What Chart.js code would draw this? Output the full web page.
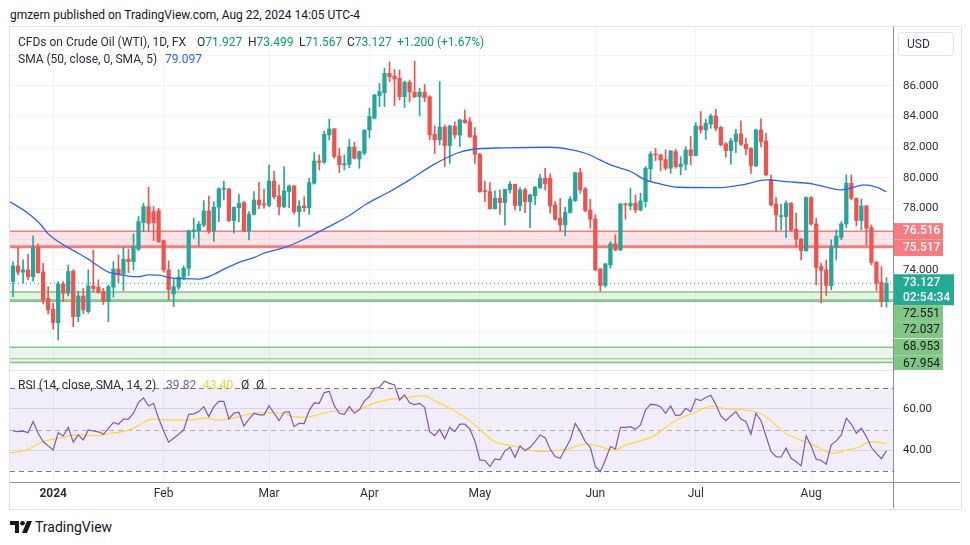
<!DOCTYPE html>
<html>
<head>
<meta charset="utf-8">
<script src="https://cdn.jsdelivr.net/npm/chart.js@4.4.1/dist/chart.umd.min.js"></script>
<style>
  body { margin: 0; width: 970px; height: 545px; background: #fff; position: relative; overflow: hidden;
         font-family: Roboto, "Liberation Sans", sans-serif; color: #131722; }
  .t { position: absolute; white-space: nowrap; font-size: 12px; line-height: 16px; }
  .g { color: #2a2e39; }
  .up { color: #089981; }
  canvas { position: absolute; }
  .line { position: absolute; }
</style>
</head>
<body>
<div class="t" style="left:10px;top:7px;font-size:12px">gmzern published on TradingView.com, Aug 22, 2024 14:05 UTC-4</div>
<div style="position:absolute;left:9px;top:26px;width:951px;height:482px;border:1px solid #e0e3eb"></div>

<canvas id="main" width="950" height="342" style="left:10px;top:28px"></canvas>
<canvas id="rsi" width="950" height="138" style="left:10px;top:370px"></canvas>

<div class="line" style="left:10px;top:370px;width:883px;height:1px;background:#e0e3eb"></div>
<div class="line" style="left:10px;top:482px;width:950px;height:1px;background:#8c8f99"></div>
<div class="line" style="left:893px;top:27px;width:1px;height:481px;background:#8c8f99"></div>

<div class="t g" style="left:18px;top:34px">CFDs on Crude Oil (WTI), 1D, FX</div>
<div class="t g" style="left:197px;top:34px">O<span class="up">71.927</span></div>
<div class="t g" style="left:248px;top:34px">H<span class="up">73.499</span></div>
<div class="t g" style="left:299px;top:34px">L<span class="up">71.567</span></div>
<div class="t g" style="left:347px;top:34px">C<span class="up">73.127</span></div>
<div class="t up" style="left:397px;top:34px">+1.200 (+1.67%)</div>
<div class="t g" style="left:18px;top:51px">SMA (50, close, 0, SMA, 5)</div>
<div class="t" style="left:165px;top:51px;color:#2962ff">79.097</div>

<div class="t g" style="left:18px;top:377px">RSI (14, close, SMA, 14, 2)</div>
<div class="t" style="left:166px;top:377px;color:#7e57c2">39.82</div>
<div class="t" style="left:203px;top:377px;color:#f5d02f">43.40</div>
<div class="t g" style="left:241px;top:377px">Ø</div>
<div class="t g" style="left:256px;top:377px">Ø</div>

<div style="position:absolute;left:898px;top:32px;width:56px;height:24px;border:1px solid #e0e3eb;border-radius:4px;box-sizing:border-box"></div>
<div class="t g" style="left:907px;top:36px;font-size:12px">USD</div>

<svg style="position:absolute;left:10px;top:521px" width="24" height="13" viewBox="0 0 24 13">
  <path d="M0 0H9V12H5V4H0Z" fill="#131722"/>
  <circle cx="12.5" cy="2.3" r="2.3" fill="#131722"/>
  <path d="M17 0H22L17 12H12Z" fill="#131722"/>
</svg>
<div class="t" style="left:35px;top:519px;font-size:14px">TradingView</div>

<script>
// daily candles, Dec 19 2023 .. Aug 22 2024 (index = trading day)
const open = [
  73.24, 74.26, 73.85, 74.00, 73.56, 75.48, 73.87, 72.13, 71.43, 70.56,
  73.09, 72.48, 73.93, 70.95, 72.30, 71.28, 72.95, 72.87, 72.59, 71.93,
  72.87, 74.06, 73.74, 74.70, 74.54, 75.35, 77.08, 78.13, 77.80, 77.87,
  75.91, 74.00, 72.43, 72.87, 73.52, 74.11, 76.50, 76.54, 76.93, 77.85,
  76.54, 78.09, 79.26, 79.28, 77.22, 78.06, 78.39, 76.54, 77.63, 78.56,
  78.32, 78.20, 79.80, 78.82, 78.13, 79.11, 79.48, 77.80, 78.17, 78.06,
  79.65, 81.11, 81.02, 82.80, 83.20, 81.43, 80.85, 80.89, 82.02, 81.24,
  81.61, 83.13, 83.89, 85.37, 85.56, 86.82, 86.65, 86.50, 85.30, 86.24,
  85.60, 85.30, 85.60, 85.30, 82.85, 82.48, 83.32, 82.10, 83.39, 82.80,
  83.78, 83.67, 82.76, 81.54, 79.15, 79.11, 77.98, 78.67, 78.39, 79.22,
  79.59, 78.20, 79.22, 78.45, 78.84, 79.37, 79.98, 79.98, 78.24, 77.37,
  76.93, 77.74, 78.52, 80.35, 79.28, 77.91, 77.33, 74.06, 72.98, 74.33,
  75.70, 75.30, 78.30, 78.17, 78.35, 77.91, 78.46, 80.59, 81.56, 81.50,
  81.20, 80.63, 81.72, 80.74, 80.89, 81.83, 81.46, 83.39, 83.13, 83.52,
  84.04, 83.30, 82.22, 81.78, 82.37, 82.87, 82.20, 81.93, 80.80, 83.13,
  82.41, 79.91, 78.30, 77.48, 77.48, 78.35, 76.65, 76.00, 75.26, 78.72,
  77.00, 74.22, 74.00, 72.98, 75.48, 76.11, 77.00, 79.65, 78.67, 77.22,
  78.17, 76.76, 74.50, 73.20, 71.927
];
const high = [
  74.54, 75.48, 74.65, 75.04, 76.22, 75.69, 74.43, 72.91, 71.82, 73.24,
  73.24, 74.32, 74.00, 72.62, 72.80, 74.00, 75.30, 73.35, 72.80, 73.02,
  74.54, 74.98, 75.48, 75.35, 76.35, 77.48, 78.35, 79.39, 78.13, 78.02,
  75.96, 74.60, 73.45, 74.00, 74.26, 76.60, 77.37, 77.15, 78.52, 78.82,
  78.45, 79.37, 79.80, 79.32, 78.09, 78.93, 78.45, 77.80, 79.11, 79.72,
  79.28, 80.85, 80.45, 79.54, 80.74, 79.54, 79.50, 78.52, 78.78, 79.98,
  81.65, 81.50, 83.06, 83.85, 83.24, 81.93, 81.50, 82.52, 82.32, 81.76,
  83.13, 84.54, 85.45, 86.17, 87.15, 87.58, 87.08, 87.04, 86.32, 86.39,
  87.63, 85.85, 86.10, 85.37, 83.41, 86.28, 83.45, 83.45, 83.67, 83.85,
  84.43, 83.93, 83.28, 81.61, 79.80, 79.70, 79.15, 79.22, 79.26, 79.76,
  79.59, 79.37, 79.32, 78.93, 79.43, 80.24, 80.63, 80.26, 78.46, 78.67,
  78.09, 78.78, 80.35, 80.63, 79.39, 78.61, 77.59, 74.11, 74.43, 75.85,
  76.28, 78.35, 78.35, 79.33, 78.89, 79.00, 80.74, 81.72, 81.93, 81.54,
  81.83, 81.80, 81.87, 81.39, 82.04, 82.70, 83.61, 84.33, 83.83, 84.17,
  84.48, 83.35, 82.30, 82.59, 83.17, 83.72, 82.59, 81.98, 83.18, 83.85,
  82.91, 80.20, 78.74, 78.30, 78.50, 78.39, 77.70, 76.06, 78.76, 78.78,
  77.37, 74.44, 74.65, 75.96, 76.61, 77.15, 80.20, 80.20, 78.70, 78.63,
  78.20, 76.93, 74.55, 74.22, 73.499
];
const low = [
  72.26, 73.69, 73.13, 73.35, 73.26, 73.78, 71.78, 71.13, 70.13, 69.43,
  71.93, 72.30, 70.30, 70.62, 71.13, 71.17, 72.56, 72.48, 71.74, 70.63,
  72.22, 73.17, 72.65, 73.82, 74.00, 75.26, 76.50, 76.52, 75.91, 75.78,
  73.85, 72.04, 71.60, 72.70, 73.35, 73.63, 76.06, 75.56, 76.82, 76.39,
  75.85, 77.15, 78.56, 77.15, 76.39, 77.15, 76.50, 75.95, 77.58, 77.98,
  78.02, 78.13, 78.63, 77.58, 78.06, 78.06, 77.63, 76.82, 77.80, 77.63,
  79.59, 80.52, 80.95, 82.48, 81.28, 80.35, 80.52, 80.67, 81.24, 80.63,
  81.50, 82.63, 83.85, 84.65, 84.65, 86.28, 84.72, 85.09, 84.59, 84.98,
  85.24, 84.06, 84.98, 82.48, 81.59, 82.15, 80.74, 80.95, 82.59, 82.04,
  83.56, 82.63, 80.95, 79.06, 78.45, 77.98, 77.98, 77.63, 76.93, 79.00,
  77.91, 77.85, 77.74, 76.76, 78.24, 79.32, 79.22, 77.70, 77.26, 76.54,
  76.22, 77.70, 78.46, 79.00, 77.80, 76.72, 73.95, 72.59, 72.87, 74.11,
  75.25, 75.25, 77.30, 77.91, 77.74, 77.85, 78.09, 79.80, 81.13, 80.46,
  80.52, 80.30, 80.63, 80.20, 80.52, 80.85, 81.43, 82.91, 82.52, 83.24,
  83.09, 82.09, 81.35, 80.89, 81.65, 82.11, 81.50, 80.30, 80.74, 82.04,
  80.13, 78.17, 76.50, 76.61, 76.11, 76.50, 75.48, 74.65, 75.20, 76.90,
  73.02, 71.85, 72.33, 72.70, 74.65, 75.96, 76.76, 78.57, 76.87, 76.61,
  75.63, 74.33, 72.65, 71.60, 71.567
];
const close = [
  74.26, 73.85, 74.00, 73.56, 75.48, 73.82, 72.04, 71.39, 70.56, 73.09,
  72.48, 73.89, 70.95, 72.30, 71.39, 72.95, 72.78, 72.52, 71.93, 72.91,
  74.06, 73.67, 74.70, 74.54, 75.48, 77.15, 78.13, 77.04, 77.08, 75.85,
  74.00, 72.70, 72.91, 73.52, 74.11, 76.56, 76.60, 76.98, 77.85, 76.54,
  78.09, 79.28, 79.32, 77.22, 78.09, 78.35, 76.54, 77.63, 78.56, 78.24,
  78.24, 79.80, 78.78, 78.13, 79.15, 79.48, 77.80, 78.17, 78.06, 79.70,
  81.11, 81.02, 82.85, 83.20, 81.39, 80.85, 80.93, 82.02, 81.28, 81.72,
  83.13, 84.00, 85.41, 85.63, 86.82, 86.60, 86.45, 85.30, 86.24, 85.60,
  85.30, 85.60, 85.24, 82.80, 82.48, 83.32, 82.10, 83.39, 82.80, 83.78,
  83.61, 82.69, 81.54, 79.11, 79.11, 77.98, 78.67, 78.39, 79.26, 79.59,
  78.20, 79.22, 78.45, 78.89, 79.39, 79.98, 79.61, 78.17, 77.30, 76.93,
  77.76, 78.61, 80.35, 79.22, 77.87, 77.30, 74.00, 72.98, 74.39, 75.70,
  75.30, 78.30, 78.24, 78.35, 77.91, 78.50, 80.63, 81.56, 81.50, 81.17,
  80.63, 81.76, 80.74, 80.91, 81.83, 81.46, 83.39, 83.13, 83.56, 84.04,
  83.24, 82.15, 81.78, 82.41, 82.87, 82.20, 81.89, 80.80, 83.13, 82.37,
  80.20, 78.24, 77.59, 77.52, 78.35, 76.61, 76.00, 75.26, 78.72, 77.00,
  74.15, 73.96, 72.98, 75.52, 76.20, 77.00, 79.65, 78.67, 77.22, 78.17,
  76.72, 74.48, 73.13, 71.93, 73.127
];

// SMA 50 as [bar index, value]
const sma50 = [
  [-0.6, 78.45], [3, 77.69], [5.6, 76.93], [7, 76.35], [9, 75.85], [11, 75.45], [13, 75.09],
  [15, 74.7], [17, 74.25], [19, 73.85], [21, 73.72], [23, 73.6], [25, 73.56], [27, 73.67],
  [29, 73.66], [31, 73.5], [34, 73.43], [37, 73.4], [40, 73.7], [42, 74.05], [44, 74.35],
  [46, 74.6], [48, 74.8], [50, 75.09], [54, 75.45], [58, 76.0], [61, 76.5], [64, 77.0],
  [67, 77.55], [70.4, 78.3], [75, 79.1], [79, 79.87], [83.7, 80.85], [88.4, 81.61],
  [91.7, 81.87], [98, 81.96], [107, 82.0], [111, 81.85], [114, 81.61], [119, 80.85],
  [123, 80.42], [126, 79.87], [129, 79.6], [132.5, 79.39], [141, 79.37], [146, 79.6],
  [150, 79.87], [154, 79.76], [159.4, 79.6], [162, 79.4], [164.7, 79.22], [167, 79.35],
  [169.4, 79.54], [172, 79.4], [174, 79.097]
];

const rsi = [
  49.3, 49.0, 49.2, 48.5, 53.9, 48.2, 44.2, 42.1, 40.1, 48.5,
  46.9, 51.1, 43.9, 47.4, 45.0, 49.8, 49.3, 48.9, 47.7, 50.6,
  53.5, 52.6, 55.1, 55.0, 57.9, 63.2, 65.3, 61.4, 62.7, 55.5,
  49.3, 43.9, 45.8, 47.7, 49.8, 57.4, 57.6, 58.7, 61.1, 56.3,
  61.1, 63.7, 63.7, 55.1, 58.0, 58.4, 51.7, 55.0, 57.9, 57.1,
  57.1, 61.6, 57.9, 54.3, 58.4, 58.7, 51.4, 53.0, 52.9, 59.2,
  62.9, 62.7, 67.9, 68.5, 61.6, 57.9, 57.4, 61.1, 57.9, 59.5,
  63.9, 66.0, 70.0, 70.5, 73.4, 72.4, 71.6, 64.3, 66.8, 63.0,
  62.1, 62.7, 60.8, 49.0, 47.1, 50.1, 45.5, 51.1, 49.0, 52.6,
  52.6, 50.3, 44.5, 35.3, 35.0, 32.1, 35.8, 35.3, 39.7, 41.4,
  36.6, 42.1, 39.7, 41.4, 44.2, 47.4, 46.1, 40.5, 36.9, 36.1,
  40.6, 45.0, 53.0, 49.0, 44.2, 41.4, 32.1, 29.6, 35.3, 41.8,
  40.6, 51.1, 51.1, 51.4, 50.1, 52.2, 59.5, 62.2, 62.1, 61.1,
  57.9, 61.4, 56.8, 57.1, 60.3, 58.7, 64.8, 64.0, 65.5, 66.6,
  62.2, 56.6, 54.3, 56.6, 58.7, 55.1, 53.9, 47.7, 57.9, 54.3,
  46.9, 39.3, 36.9, 36.6, 41.0, 36.1, 34.5, 32.4, 46.9, 42.1,
  35.6, 35.0, 33.2, 42.6, 44.5, 47.4, 55.5, 52.6, 48.2, 50.6,
  46.6, 41.3, 38.5, 35.9, 39.82
];

// RSI smoothing line as [bar index, value]
const rsiMa = [
  [-0.6, 38.7], [0, 38.8], [2.7, 40.1], [6.0, 44.2], [9.3, 45.8], [12.7, 47.4], [17.3, 47.1],
  [19.3, 48.2], [21.9, 49.0], [23.9, 50.6], [27.9, 55.1], [31.9, 54.6], [34.6, 54.6],
  [38.6, 55.5], [40.6, 54.6], [43.9, 55.5], [47.2, 57.6], [50.5, 58.2], [53.8, 57.9],
  [55.8, 56.3], [58.5, 56.0], [61.1, 57.4], [63.8, 59.0], [67.8, 59.2], [69.1, 59.8],
  [71.8, 62.7], [74.4, 64.3], [77.1, 65.1], [79.7, 66.0], [82.1, 66.3], [83.7, 64.3],
  [87.0, 60.3], [90.3, 55.5], [93.0, 50.1], [95.7, 44.5], [98.3, 42.6], [101.0, 41.3],
  [105.0, 39.3], [109.0, 40.1], [110.9, 40.9], [114.3, 43.0], [116.9, 41.7], [119.6, 40.1],
  [122.2, 42.6], [124.9, 44.5], [127.5, 46.6], [130.2, 51.4], [132.9, 55.5], [135.5, 57.9],
  [138.2, 60.8], [139.5, 61.4], [142.1, 60.0], [145.5, 59.5], [148.8, 57.9], [150.8, 54.7],
  [153.4, 49.0], [156.8, 45.0], [159.4, 42.6], [162.1, 39.3], [163.4, 38.5], [166.1, 40.1],
  [168.7, 41.7], [170.7, 44.2], [172.7, 43.7], [174, 43.40]
];

// time axis: first bar of each month
const monthIdx = [8, 30, 51, 71, 93, 116, 136, 159];
const monthLabels = ['2024', 'Feb', 'Mar', 'Apr', 'May', 'Jun', 'Jul', 'Aug'];

// price axis
const priceTicks = [68, 70, 72, 74, 76, 78, 80, 82, 84, 86, 88];
const priceLabels = [74, 78, 80, 82, 84, 86];
const rsiTicks = [40, 60];

// drawn levels
const resistance = [76.516, 75.517];
const support = [72.551, 72.037];
const support2 = [68.953, 67.954];
const lastClose = 73.127;
const countdown = '02:54:34';

const up = '#26a69a', down = '#ef5350';
Chart.defaults.font.family = 'Roboto, "Liberation Sans", sans-serif';

const bars = open.map((_, i) => i);
const barColors = bars.map(i => close[i] >= open[i] ? up : down);

const xMin = -0.6, xMax = 175.3;

// no auto padding around the plot, TradingView style
const noPad = s => { s.paddingTop = 0; s.paddingBottom = 0; s.paddingLeft = 0; s.paddingRight = 0; };

const levels = {
  id: 'levels',
  beforeDatasetsDraw(chart) {
    const { ctx, chartArea: a, scales: { y } } = chart;
    const w = a.right - a.left;
    ctx.save();
    const zone = (top, bot, fill) => {
      const y1 = y.getPixelForValue(top), y2 = y.getPixelForValue(bot);
      ctx.fillStyle = fill;
      ctx.fillRect(a.left, y1, w, y2 - y1);
    };
    zone(resistance[0], resistance[1], 'rgba(242,54,69,0.13)');
    zone(support[0], 71.95, 'rgba(76,175,80,0.15)');
    zone(support2[0], support2[1], 'rgba(76,175,80,0.12)');
    const hline = (v, color, lw) => {
      const py = y.getPixelForValue(v);
      ctx.strokeStyle = color;
      ctx.lineWidth = lw;
      ctx.beginPath();
      ctx.moveTo(a.left, py);
      ctx.lineTo(a.right, py);
      ctx.stroke();
    };
    hline(resistance[0], '#f77c80', 1.5);
    hline(resistance[1], '#f77c80', 3);
    hline(support[0], '#81c784', 1.5);
    hline(support[1], '#81c784', 1.5);
    hline(71.95, '#81c784', 1.5);
    hline(support2[0], '#81c784', 1.5);
    hline(68.2, '#81c784', 1);
    hline(support2[1], '#81c784', 1.5);
    ctx.setLineDash([1, 3]);
    hline(lastClose, up, 1);
    ctx.restore();
  },
  afterDraw(chart) {
    const { ctx, chartArea: a, scales: { y } } = chart;
    const tags = [
      { v: resistance[0], lines: [resistance[0].toFixed(3)], bg: '#f77c80', fg: '#fff', w: 49 },
      { v: resistance[1], lines: [resistance[1].toFixed(3)], bg: '#f77c80', fg: '#fff', w: 49 },
      { v: lastClose, lines: [lastClose.toFixed(3), countdown], bg: '#22ab94', fg: '#fff', w: 60 },
      { v: support[0], lines: [support[0].toFixed(3)], bg: '#81c784', fg: '#131722', w: 49 },
      { v: support[1], lines: [support[1].toFixed(3)], bg: '#81c784', fg: '#131722', w: 49 },
      { v: support2[0], lines: [support2[0].toFixed(3)], bg: '#81c784', fg: '#131722', w: 49 },
      { v: support2[1], lines: [support2[1].toFixed(3)], bg: '#81c784', fg: '#131722', w: 49 }
    ];
    ctx.save();
    ctx.textBaseline = 'middle';
    let prevBottom = -1e9;
    tags.forEach(t => {
      let c = y.getPixelForValue(t.v);
      const above = t.lines.length > 1 ? 9 : 8.25;
      const below = t.lines.length > 1 ? 22 : 8.25;
      if (c - above < prevBottom) c = prevBottom + above;
      prevBottom = c + below;
      ctx.fillStyle = t.bg;
      ctx.fillRect(a.right + 1, c - above, t.w, above + below);
      ctx.fillStyle = t.fg;
      ctx.font = (t.fg === '#fff' ? '500 ' : '') + '12px Roboto, "Liberation Sans", sans-serif';
      t.lines.forEach((s, k) => ctx.fillText(s, a.right + 10, c + k * 15));
    });
    ctx.restore();
  }
};

new Chart(document.getElementById('main'), {
  type: 'bar',
  data: {
    datasets: [
      {
        type: 'line',
        data: sma50.map(p => ({ x: p[0], y: p[1] })),
        borderColor: '#2962ff',
        borderWidth: 1.3,
        pointRadius: 0,
        cubicInterpolationMode: 'monotone',
        order: 0
      },
      {
        data: bars.map(i => ({ x: i, y: [open[i], close[i]] })),
        backgroundColor: barColors,
        barThickness: 3.6,
        minBarLength: 1,
        grouped: false,
        order: 1
      },
      {
        data: bars.map(i => ({ x: i, y: [low[i], high[i]] })),
        backgroundColor: barColors,
        barThickness: 1,
        grouped: false,
        order: 2
      }
    ]
  },
  options: {
    responsive: false,
    animation: false,
    events: [],
    layout: { padding: 0, autoPadding: false },
    plugins: { legend: { display: false }, tooltip: { enabled: false } },
    scales: {
      x: {
        type: 'linear', min: xMin, max: xMax, offset: false,
        afterBuildTicks: s => { s.ticks = monthIdx.map(v => ({ value: v })); },
        ticks: { display: false },
        grid: { color: '#f0f3fa', drawTicks: false, offset: false },
        border: { display: false },
        afterFit: s => { s.height = 0; noPad(s); }
      },
      y: {
        position: 'right', min: 67.47, max: 89.78,
        afterBuildTicks: s => { s.ticks = priceTicks.map(v => ({ value: v })); },
        ticks: {
          padding: 10, color: '#2a2e39', font: { size: 11.5 },
          callback: v => priceLabels.includes(v) ? v.toFixed(3) : ''
        },
        grid: { color: '#f0f3fa', drawTicks: false },
        border: { display: false },
        afterFit: s => { s.width = 67; noPad(s); }
      }
    }
  },
  plugins: [levels]
});

const rsiBand = {
  id: 'rsiBand',
  beforeDatasetsDraw(chart) {
    const { ctx, chartArea: a, scales: { y } } = chart;
    const y70 = y.getPixelForValue(70), y30 = y.getPixelForValue(30), y50 = y.getPixelForValue(50);
    ctx.save();
    ctx.fillStyle = 'rgba(126,87,194,0.1)';
    ctx.fillRect(a.left, y70, a.right - a.left, y30 - y70);
    ctx.lineWidth = 1;
    ctx.setLineDash([5, 4]);
    [[y70, '#787b86'], [y30, '#787b86'], [y50, 'rgba(120,123,134,0.55)']].forEach(([py, c]) => {
      ctx.strokeStyle = c;
      ctx.beginPath();
      ctx.moveTo(a.left, Math.round(py) + 0.5);
      ctx.lineTo(a.right, Math.round(py) + 0.5);
      ctx.stroke();
    });
    ctx.restore();
  }
};

new Chart(document.getElementById('rsi'), {
  type: 'line',
  data: {
    datasets: [
      {
        data: bars.map(i => ({ x: i, y: rsi[i] })),
        borderColor: '#7e57c2',
        borderWidth: 1.2,
        pointRadius: 0,
        tension: 0
      },
      {
        data: rsiMa.map(p => ({ x: p[0], y: p[1] })),
        borderColor: '#fdd835',
        borderWidth: 1.2,
        pointRadius: 0,
        cubicInterpolationMode: 'monotone'
      }
    ]
  },
  options: {
    responsive: false,
    animation: false,
    events: [],
    layout: { padding: 0, autoPadding: false },
    plugins: { legend: { display: false }, tooltip: { enabled: false } },
    scales: {
      x: {
        type: 'linear', min: xMin, max: xMax, offset: false,
        afterBuildTicks: s => { s.ticks = monthIdx.map(v => ({ value: v })); },
        ticks: {
          autoSkip: false, maxRotation: 0, padding: 5, color: '#2a2e39',
          font: c => ({ size: 12, weight: c.index === 0 ? 'bold' : 'normal' }),
          callback: (v, i) => monthLabels[i]
        },
        grid: { color: '#f0f3fa', drawTicks: false },
        border: { display: false },
        afterFit: s => { s.height = 26; noPad(s); }
      },
      y: {
        position: 'right', min: 24.6, max: 78.85,
        afterBuildTicks: s => { s.ticks = rsiTicks.map(v => ({ value: v })); },
        ticks: { padding: 10, color: '#2a2e39', font: { size: 11.5 }, callback: v => v.toFixed(2) },
        grid: { color: '#e3e1ec', drawTicks: false },
        border: { display: false },
        afterFit: s => { s.width = 67; noPad(s); }
      }
    }
  },
  plugins: [rsiBand]
});
</script>
</body>
</html>
